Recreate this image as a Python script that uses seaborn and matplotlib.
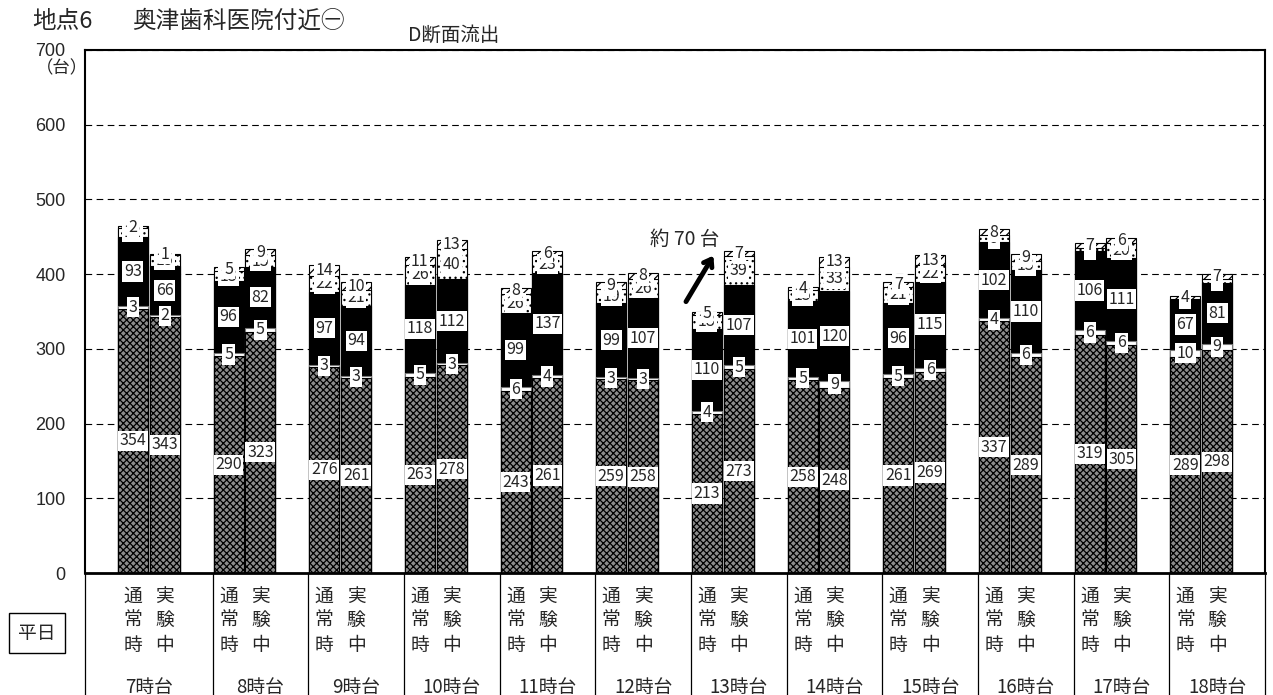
import numpy as np
import pandas as pd
import matplotlib
matplotlib.use('Agg')
import matplotlib.pyplot as plt
import seaborn as sns

# 地点6 D断面流出 : 通常時 / 実験中 by hour, 5 stacked segments each
hours = ['7時台', '8時台', '9時台', '10時台', '11時台', '12時台',
         '13時台', '14時台', '15時台', '16時台', '17時台', '18時台']

normal_base = [354, 290, 276, 263, 243, 259, 213, 258, 261, 337, 319, 289]
normal_small = [3, 5, 3, 5, 6, 3, 4, 5, 5, 4, 6, 10]
normal_black = [93, 96, 97, 118, 99, 99, 110, 101, 96, 102, 106, 67]
normal_dot = [12, 13, 22, 26, 26, 19, 18, 15, 21, 9, 4, 1]
normal_top = [2, 5, 14, 11, 8, 9, 5, 4, 7, 8, 7, 4]

test_base = [343, 323, 261, 278, 261, 258, 273, 248, 269, 289, 305, 298]
test_small = [2, 5, 3, 3, 4, 3, 5, 9, 6, 6, 6, 9]
test_black = [66, 82, 94, 112, 137, 107, 107, 120, 115, 110, 111, 81]
test_dot = [15, 15, 21, 40, 23, 26, 39, 33, 22, 13, 20, 5]
test_top = [1, 9, 10, 13, 6, 8, 7, 13, 13, 9, 6, 7]

sns.set_style('white')
plt.rcParams['font.family'] = ['Noto Sans CJK JP', 'DejaVu Sans']
plt.rcParams['hatch.linewidth'] = 0.9

# slot order: gap, 通常, 実験 for each hour + one gap at the end
slots = []
for h in hours:
    slots += [h + '_gap', h + '_通常', h + '_実験']
slots.append('end_gap')

df = pd.DataFrame({
    'slot': [h + '_通常' for h in hours] + [h + '_実験' for h in hours],
    'base': normal_base + test_base,
    'small': normal_small + test_small,
    'black': normal_black + test_black,
    'dot': normal_dot + test_dot,
    'top': normal_top + test_top,
})
df['c1'] = df['base']
df['c2'] = df['c1'] + df['small']
df['c3'] = df['c2'] + df['black']
df['c4'] = df['c3'] + df['dot']
df['c5'] = df['c4'] + df['top']

fig = plt.figure(figsize=(12.73, 6.95), dpi=100)
ax = fig.add_axes([85/1273, 122/695, 1180/1273, 523/695])

layers = [('c5', 'white', '////', 'black'),
          ('c4', 'white', '...', 'black'),
          ('c3', 'black', '', 'black'),
          ('c2', 'white', '', '#777777'),
          ('c1', '#8c8c8c', 'xxxxx', 'black')]
for col, fc, hatch, ec in layers:
    n0 = len(ax.patches)
    sns.barplot(data=df, x='slot', y=col, order=slots, color=fc, saturation=1,
                width=0.94, errorbar=None, edgecolor=ec, linewidth=0.8, ax=ax)
    for p in ax.patches[n0:]:
        p.set_hatch(hatch)

# value labels
pos = {s: i for i, s in enumerate(slots)}
z = 5
for seg_lo, seg_hi, seg in [(None, 'c1', 'base'), ('c1', 'c2', 'small'), ('c2', 'c3', 'black'),
                            ('c3', 'c4', 'dot'), ('c4', 'c5', 'top')]:
    for _, r in df.iterrows():
        lo = 0 if seg_lo is None else r[seg_lo]
        mid = (lo + r[seg_hi]) / 2
        ax.text(pos[r['slot']], mid, str(r[seg]), ha='center', va='center', fontsize=11.5,
                zorder=z, bbox=dict(boxstyle='square,pad=0.1', fc='white', ec='none'))
    z += 1

ax.set_xlim(-0.5, len(slots) - 0.5)
ax.set_ylim(0, 700)
ax.set_yticks(range(0, 701, 100))
ax.set_axisbelow(True)
ax.yaxis.grid(True, linestyle=(0, (6, 4)), color='black', lw=0.8)
ax.tick_params(axis='y', length=0, pad=14, labelsize=13)
for lbl in ax.get_yticklabels():
    lbl.set_fontfamily(['Liberation Sans', 'DejaVu Sans'])
ax.set_ylabel('')
ax.set_xlabel('')

xt, xl = [], []
for k in range(len(hours)):
    xt += [1 + 3 * k, 2 + 3 * k]
    xl += ['通\n常\n時', '実\n験\n中']
ax.set_xticks(xt)
ax.set_xticklabels(xl, fontsize=13.5, linespacing=1.22)
ax.tick_params(axis='x', length=0, pad=9)

for sp in ax.spines.values():
    sp.set_visible(True)
    sp.set_color('black')
    sp.set_linewidth(1.5)
ax.spines['bottom'].set_linewidth(2)

# table dividers under the axis
tr = ax.get_xaxis_transform()
for x in [-0.5] + [3 * k + 3.5 for k in range(len(hours))]:
    ax.plot([x, x], [0, -0.25], transform=tr, color='black', lw=0.9, clip_on=False)
for k, h in enumerate(hours):
    cx = 1.5 if k == 0 else 3 * k + 2
    ax.text(cx, -0.218, h, transform=tr, ha='center', va='center', fontsize=13.5)

# annotation
ax.annotate('', xy=(19.25, 428), xytext=(18.3, 360),
            arrowprops=dict(arrowstyle='->,head_length=0.5,head_width=0.35', lw=3.5, color='black'))
ax.text(18.3, 446, '約 70 台', ha='center', va='center', fontsize=14)

fig.text(32/1273, 1 - 21/695, '地点6', fontsize=17, va='center')
fig.text(132/1273, 1 - 21/695, '奥津歯科医院付近㊀', fontsize=17, va='center')
fig.text(408/1273, 1 - 35/695, 'D断面流出', fontsize=14, va='center')
fig.text(62/1273, 1 - 68/695, '（台）', fontsize=12.5, ha='center', va='center')
fig.text(37/1273, 1 - 633/695, '平日', fontsize=13.5, ha='center', va='center',
         bbox=dict(boxstyle='square,pad=0.5', fc='white', ec='black', lw=1))

fig.savefig('out.png', dpi=100)
